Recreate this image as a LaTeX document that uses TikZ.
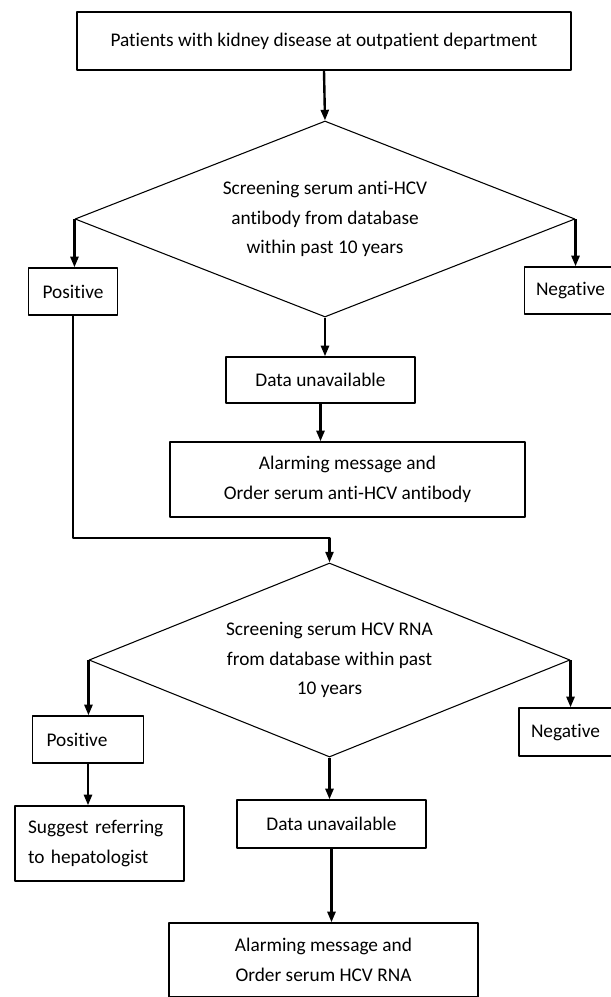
\documentclass[tikz,border=0pt]{standalone}
\usepackage{fontspec}
\setmainfont{Carlito}[RawFeature=-liga]
\usetikzlibrary{shapes.geometric, arrows.meta}
\begin{document}
\begin{tikzpicture}[x=0.75pt, y=-0.75pt, >={Triangle[length=8pt, width=6pt]}, line join=round,
    font=\fontsize{14.5}{22}\selectfont,
    box/.style={draw, line width=1pt, align=center, inner sep=0pt},
    decide/.style={draw, diamond, line width=0.8pt, align=center, inner sep=0pt, aspect=2.5},
    flow/.style={->, line width=1.8pt}]
\useasboundingbox (0,0) rectangle (611,997);
\clip (0,0) rectangle (611,997);
% first screening
\node[box, minimum width=370.5pt, minimum height=43.5pt] (patients) at (324,41) {Patients with kidney disease at outpatient department};
\node[decide, minimum width=375pt, minimum height=147pt] (antihcv) at (325,219) {Screening serum anti-HCV\\antibody from database\\within past 10 years};
\node[box, minimum width=66.75pt, minimum height=35.25pt] (pos1) at (73,291.5) {Positive};
\node[box, minimum width=69pt, minimum height=35.25pt] (neg1) at (570.5,290.5) {Negative};
\node[box, minimum width=141.75pt, minimum height=34.5pt] (nodata1) at (320.5,380) {Data unavailable};
\node[box, minimum width=266.25pt, minimum height=56.25pt] (alarm1) at (347.5,479.5) {Alarming message and\\Order serum anti-HCV antibody};
% second screening
\node[decide, minimum width=360.75pt, minimum height=145.5pt] (rna) at (329.5,660) {Screening serum HCV RNA\\from database within past\\10 years};
\node[box, minimum width=83.25pt, minimum height=35.25pt, text width=62.25pt, inner xsep=10.5pt, align=left] (pos2) at (88,739.5) {Positive};
\node[box, minimum width=69.75pt, minimum height=36pt] (neg2) at (565.5,732) {Negative};
\node[box, minimum width=126.75pt, minimum height=56.25pt, text width=107.25pt, inner xsep=9.75pt, align=left] (refer) at (99.5,843.5) {Suggest referring\\to hepatologist};
\node[box, minimum width=141.75pt, minimum height=36pt] (nodata2) at (331.5,824) {Data unavailable};
\node[box, minimum width=231.75pt, minimum height=55.5pt] (alarm2) at (323.5,960) {Alarming message and\\Order serum HCV RNA};
% connectors
\draw[flow] (patients.south) -- (antihcv.north);
\draw[flow] (antihcv.west) -- (antihcv.west |- pos1.north);
\draw[flow] (antihcv.east) -- (antihcv.east |- neg1.north);
\draw[flow] (antihcv.south) -- (antihcv.south |- nodata1.north);
\draw[flow] (nodata1.south) -- (nodata1.south |- alarm1.north);
\draw[flow] (pos1.south) -- (pos1.south |- 0,538) -| (rna.north);
\draw[flow] (rna.west) -- (rna.west |- pos2.north);
\draw[flow] (rna.east) -- (rna.east |- neg2.north);
\draw[flow] (pos2.south) -- (pos2.south |- refer.north);
\draw[flow] (rna.south) -- (rna.south |- nodata2.north);
\draw[flow] (nodata2.south) -- (nodata2.south |- alarm2.north);
\end{tikzpicture}
\end{document}
